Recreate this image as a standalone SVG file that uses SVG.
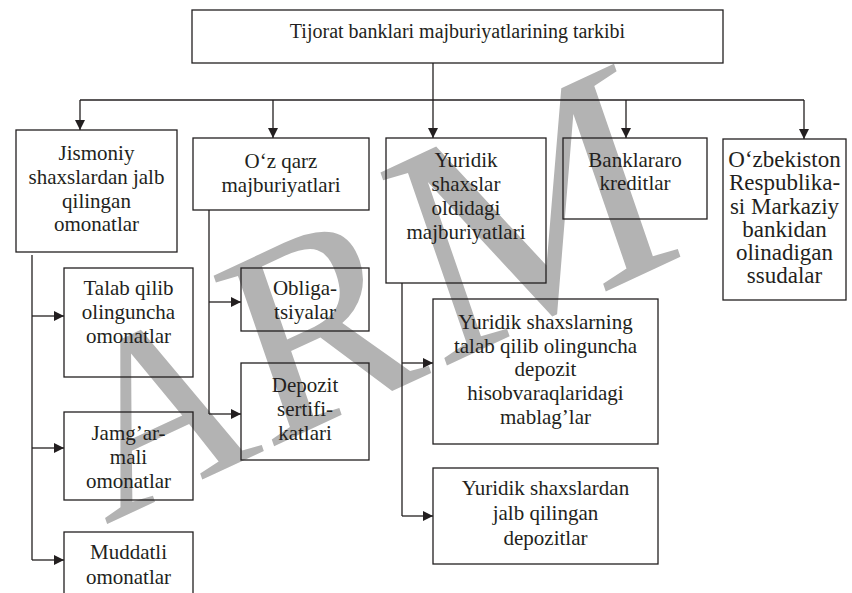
<svg xmlns="http://www.w3.org/2000/svg" width="852" height="593" viewBox="0 0 852 593">
<style>
.bx{fill:none;stroke:#231f20;stroke-width:1.3}
.t{font-family:"Liberation Serif","Times New Roman",serif;font-size:21px;fill:#231f20;text-anchor:middle}
.tt{font-size:20px}
.tb{font-size:23px}
.ln{fill:none;stroke:#231f20;stroke-width:1.3}
.wm{font-family:"Liberation Serif","Times New Roman",serif;fill:#b3b3b3}
</style>
<defs>
<marker id="ar" viewBox="0 0 10 10" refX="10" refY="5" markerWidth="10" markerHeight="10" markerUnits="userSpaceOnUse" orient="auto">
<path d="M0,0 L10,5 L0,10 Z" fill="#231f20"/>
</marker>
</defs>
<rect width="852" height="593" fill="#fff"/>
<text class="wm" transform="translate(105,525) rotate(-25) skewX(-6)"><tspan font-size="245">A</tspan><tspan font-size="275">R</tspan><tspan font-size="310" dx="8">M</tspan></text>
<g id="connectors">
<path class="ln" d="M433,63 V138" marker-end="url(#ar)"/>
<path class="ln" d="M80,100 H804"/>
<path class="ln" d="M80,100 V130" marker-end="url(#ar)"/>
<path class="ln" d="M273,100 V138" marker-end="url(#ar)"/>
<path class="ln" d="M626,100 V138" marker-end="url(#ar)"/>
<path class="ln" d="M804,100 V139" marker-end="url(#ar)"/>
<path class="ln" d="M32,255 V560"/>
<path class="ln" d="M32,316 H64" marker-end="url(#ar)"/>
<path class="ln" d="M32,448 H64" marker-end="url(#ar)"/>
<path class="ln" d="M32,560 H64" marker-end="url(#ar)"/>
<path class="ln" d="M209,210 V414"/>
<path class="ln" d="M209,302 H241" marker-end="url(#ar)"/>
<path class="ln" d="M209,414 H241" marker-end="url(#ar)"/>
<path class="ln" d="M402,283 V516"/>
<path class="ln" d="M402,363 H433" marker-end="url(#ar)"/>
<path class="ln" d="M402,516 H433" marker-end="url(#ar)"/>
</g>
<g id="n-root">
<rect class="bx" x="192" y="10" width="531" height="53"/>
<text class="t tt" x="457.5" y="37.5">Tijorat banklari majburiyatlarining tarkibi</text>
</g>
<g id="n-jismoniy">
<rect class="bx" x="16" y="130" width="161" height="122"/>
<text class="t" x="96.5" y="160">Jismoniy</text>
<text class="t" x="96.5" y="184">shaxslardan jalb</text>
<text class="t" x="96.5" y="207.5">qilingan</text>
<text class="t" x="96.5" y="231">omonatlar</text>
</g>
<g id="n-ozqarz">
<rect class="bx" x="193" y="138" width="176" height="72"/>
<text class="t" x="281" y="168">O‘z qarz</text>
<text class="t" x="281" y="192">majburiyatlari</text>
</g>
<g id="n-yuridik">
<rect class="bx" x="386" y="138" width="160" height="145"/>
<text class="t" x="466" y="166.5">Yuridik</text>
<text class="t" x="466" y="191">shaxslar</text>
<text class="t" x="466" y="215">oldidagi</text>
<text class="t" x="466" y="238.5">majburiyatlari</text>
</g>
<g id="n-banklararo">
<rect class="bx" x="563" y="138" width="144" height="81"/>
<text class="t" x="635" y="166.5">Banklararo</text>
<text class="t" x="635" y="190">kreditlar</text>
</g>
<g id="n-markaziy">
<rect class="bx" x="723" y="139" width="123" height="161"/>
<text class="t tb" x="784.5" y="166.5">O‘zbekiston</text>
<text class="t tb" x="784.5" y="190">Respublika-</text>
<text class="t tb" x="784.5" y="213.5">si Markaziy</text>
<text class="t tb" x="784.5" y="237">bankidan</text>
<text class="t tb" x="784.5" y="260">olinadigan</text>
<text class="t tb" x="784.5" y="283">ssudalar</text>
</g>
<g id="n-talab">
<rect class="bx" x="64" y="268" width="129" height="109"/>
<text class="t" x="128.5" y="295">Talab qilib</text>
<text class="t" x="128.5" y="319">olinguncha</text>
<text class="t" x="128.5" y="343">omonatlar</text>
</g>
<g id="n-jamgarma">
<rect class="bx" x="64" y="412" width="129" height="88"/>
<text class="t" x="128.5" y="440">Jamg’ar-</text>
<text class="t" x="128.5" y="464">mali</text>
<text class="t" x="128.5" y="488">omonatlar</text>
</g>
<g id="n-muddatli">
<rect class="bx" x="64" y="532" width="129" height="80"/>
<text class="t" x="128.5" y="559">Muddatli</text>
<text class="t" x="128.5" y="583.5">omonatlar</text>
</g>
<g id="n-obligatsiya">
<rect class="bx" x="241" y="268" width="128" height="63"/>
<text class="t" x="305" y="295">Obliga-</text>
<text class="t" x="305" y="319">tsiyalar</text>
</g>
<g id="n-depozit">
<rect class="bx" x="241" y="363" width="128" height="97"/>
<text class="t" x="305" y="392">Depozit</text>
<text class="t" x="305" y="416">sertifi-</text>
<text class="t" x="305" y="440">katlari</text>
</g>
<g id="n-yur-talab">
<rect class="bx" x="433" y="299" width="225" height="145"/>
<text class="t" x="545.5" y="329">Yuridik shaxslarning</text>
<text class="t" x="545.5" y="352.5">talab qilib olinguncha</text>
<text class="t" x="545.5" y="376">depozit</text>
<text class="t" x="545.5" y="400">hisobvaraqlaridagi</text>
<text class="t" x="545.5" y="424">mablag’lar</text>
</g>
<g id="n-yur-depozit">
<rect class="bx" x="433" y="468" width="225" height="96"/>
<text class="t" x="545.5" y="495">Yuridik shaxslardan</text>
<text class="t" x="545.5" y="520">jalb qilingan</text>
<text class="t" x="545.5" y="544.5">depozitlar</text>
</g>
</svg>
